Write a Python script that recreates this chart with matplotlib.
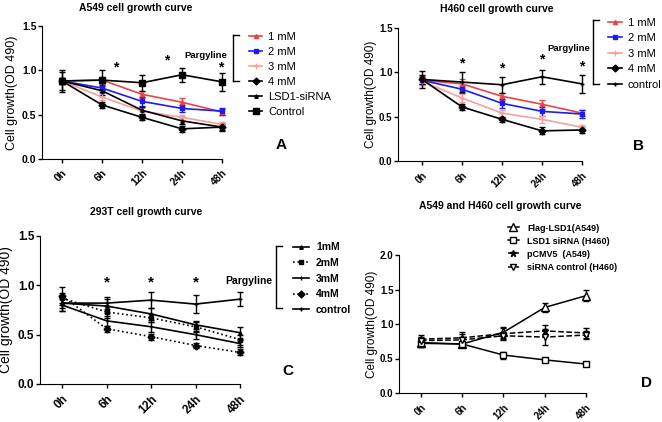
import matplotlib.pyplot as plt
import numpy as np
from matplotlib.lines import Line2D

plt.rcParams['font.family'] = ['Liberation Sans', 'DejaVu Sans']

W, H = 662, 422

times = ['0h', '6h', '12h', '24h', '48h']

# A549 panel
a_labels = ['1 mM', '2 mM', '3 mM', '4 mM', 'LSD1-siRNA', 'Control']
a_1mm = [0.88, 0.89, 0.73, 0.64, 0.53]
a_2mm = [0.88, 0.80, 0.65, 0.57, 0.54]
a_3mm = [0.88, 0.70, 0.54, 0.47, 0.39]
a_4mm = [0.88, 0.61, 0.47, 0.34, 0.36]
a_sirna = [0.88, 0.77, 0.55, 0.43, 0.36]
a_ctrl = [0.88, 0.89, 0.86, 0.95, 0.87]
a_err = [[0.03, 0.04, 0.04, 0.05, 0.03],
         [0.03, 0.04, 0.05, 0.04, 0.04],
         [0.03, 0.04, 0.03, 0.03, 0.03],
         [0.03, 0.03, 0.03, 0.03, 0.03],
         [0.10, 0.05, 0.04, 0.04, 0.04],
         [0.12, 0.11, 0.09, 0.08, 0.10]]

# H460 panel
b_labels = ['1 mM', '2 mM', '3 mM', '4 mM', 'control']
b_1mm = [0.91, 0.87, 0.73, 0.64, 0.54]
b_2mm = [0.91, 0.81, 0.65, 0.56, 0.53]
b_3mm = [0.90, 0.71, 0.54, 0.47, 0.38]
b_4mm = [0.92, 0.61, 0.47, 0.34, 0.35]
b_ctrl = [0.92, 0.89, 0.86, 0.95, 0.87]
b_err = [[0.05, 0.05, 0.04, 0.05, 0.03],
         [0.04, 0.04, 0.05, 0.05, 0.04],
         [0.04, 0.05, 0.04, 0.04, 0.03],
         [0.05, 0.03, 0.03, 0.04, 0.03],
         [0.10, 0.11, 0.09, 0.08, 0.10]]

# 293T panel
c_labels = ['1mM', '2mM', '3mM', '4mM', 'control']
c_1mm = [0.82, 0.79, 0.71, 0.60, 0.52]
c_2mm = [0.87, 0.73, 0.67, 0.58, 0.45]
c_3mm = [0.80, 0.64, 0.58, 0.50, 0.41]
c_4mm = [0.89, 0.56, 0.48, 0.39, 0.32]
c_ctrl = [0.82, 0.82, 0.85, 0.81, 0.86]
c_err = [[0.05, 0.07, 0.06, 0.04, 0.06],
         [0.05, 0.06, 0.04, 0.05, 0.05],
         [0.06, 0.05, 0.05, 0.04, 0.04],
         [0.09, 0.03, 0.03, 0.03, 0.03],
         [0.08, 0.06, 0.08, 0.09, 0.07]]

# A549 and H460 panel
d_labels = ['Flag-LSD1(A549)', 'LSD1 siRNA (H460)', 'pCMV5  (A549)', 'siRNA control (H460)']
d_flag = [0.73, 0.71, 0.88, 1.24, 1.41]
d_sirna = [0.72, 0.71, 0.55, 0.48, 0.42]
d_pcmv = [0.78, 0.80, 0.86, 0.90, 0.87]
d_sictrl = [0.76, 0.77, 0.83, 0.81, 0.84]
d_err = [[0.06, 0.04, 0.08, 0.07, 0.08],
         [0.05, 0.03, 0.05, 0.03, 0.03],
         [0.06, 0.08, 0.08, 0.08, 0.07],
         [0.05, 0.09, 0.06, 0.12, 0.06]]

RED = '#e8444c'
BLUE = '#1c1cf0'
PINK = '#f4a0a0'


def px(x, y):
    return x / W, 1 - y / H


def make_axes(fig, left, top, right, bottom, x0, ymax, yticks, fs=7.5, lfs=8.5):
    ax = fig.add_axes([left / W, 1 - bottom / H, (right - left) / W, (bottom - top) / H])
    ax.set_xlim(x0, 4.0)
    ax.set_ylim(0, ymax)
    ax.spines['top'].set_visible(False)
    ax.spines['right'].set_visible(False)
    ax.set_xticks(np.arange(len(times)))
    ax.set_xticklabels(times, rotation=45, ha='right', rotation_mode='anchor',
                       fontsize=fs, fontweight='bold')
    ax.set_yticks(yticks)
    ax.set_yticklabels([f'{t:.1f}' for t in yticks], fontsize=fs, fontweight='bold')
    ax.tick_params(direction='out', length=3, width=1)
    ax.tick_params(axis='y', pad=1)
    ax.set_ylabel('Cell growth(OD 490)', fontsize=lfs)
    return ax


def series(ax, y, err, **kw):
    x = np.arange(len(times))
    h = ax.errorbar(x, y, yerr=err, capsize=2, elinewidth=1, capthick=1,
                    clip_on=False, **kw)
    for a in h.lines[1] + h.lines[2]:
        a.set_clip_on(False)
    return h[0]


def bracket(fig, x, y1, y2, w=6):
    for xs, ys in [([x, x], [y1, y2]), ([x, x + w], [y1, y1]), ([x, x + w], [y2, y2])]:
        fig.add_artist(Line2D([v / W for v in xs], [1 - v / H for v in ys],
                              color='black', lw=1))


fig = plt.figure(figsize=(W / 100, H / 100), dpi=100)

# ---- A ----
ax = make_axes(fig, 42, 26, 222, 159, -0.5, 1.5, [0, 0.5, 1.0, 1.5], lfs=9)
ax.yaxis.set_label_coords(-0.135, 0.5)
h = []
h.append(series(ax, a_1mm, a_err[0], color=RED, marker='^', ms=3, lw=1.2))
h.append(series(ax, a_2mm, a_err[1], color=BLUE, marker='s', ms=3.5, lw=1.2))
h.append(series(ax, a_3mm, a_err[2], color=PINK, marker='+', ms=4, lw=1.2))
h.append(series(ax, a_4mm, a_err[3], color='black', marker='D', ms=3.5, lw=1.2))
h.append(series(ax, a_sirna, a_err[4], color='black', marker='^', ms=2.5, lw=1.2))
h.append(series(ax, a_ctrl, a_err[5], color='black', marker='s', ms=4, lw=1.2))
ax.legend(h, a_labels, loc='upper left', bbox_to_anchor=px(243, 26.5),
          bbox_transform=fig.transFigure, frameon=False, borderpad=0,
          fontsize=8, handlelength=1.25, handletextpad=0.5, labelspacing=0.45)
bracket(fig, 233, 35, 81)
ax.text(3.6, 1.17, 'Pargyline', fontsize=6.8, fontweight='bold', ha='center', va='center')
for sx, sy in [(1.35, 1.03), (2.62, 1.11), (3.98, 1.03)]:
    ax.text(sx, sy, '*', fontsize=10, fontweight='bold', ha='center', va='center')
fig.text(*px(136, 8), 'A549 cell growth curve', fontsize=7.5, fontweight='bold',
         ha='center', va='center')
fig.text(*px(281, 145), 'A', fontsize=11, fontweight='bold', ha='center', va='center')

# ---- B ----
ax = make_axes(fig, 398, 28, 582, 161, -0.6, 1.5, [0, 0.5, 1.0, 1.5], fs=7)
ax.yaxis.set_label_coords(-0.112, 0.5)
h = []
h.append(series(ax, b_1mm, b_err[0], color=RED, marker='^', ms=3, lw=1.2))
h.append(series(ax, b_2mm, b_err[1], color=BLUE, marker='s', ms=3.5, lw=1.2))
h.append(series(ax, b_3mm, b_err[2], color=PINK, marker='+', ms=4, lw=1.2))
h.append(series(ax, b_4mm, b_err[3], color='black', marker='D', ms=3.5, lw=1.2))
h.append(series(ax, b_ctrl, b_err[4], color='black', marker='+', ms=3.5, lw=1.2))
ax.legend(h, b_labels, loc='upper left', bbox_to_anchor=px(602, 12),
          bbox_transform=fig.transFigure, frameon=False, borderpad=0,
          fontsize=8, handlelength=1.3, handletextpad=0.5, labelspacing=0.5)
bracket(fig, 593, 20, 84)
ax.text(3.67, 1.27, 'Pargyline', fontsize=6.8, fontweight='bold', ha='center', va='center')
for sx, sy in [(1, 1.10), (2, 1.04), (3, 1.14), (4, 1.07)]:
    ax.text(sx, sy, '*', fontsize=10, fontweight='bold', ha='center', va='center')
fig.text(*px(497, 9), 'H460 cell growth curve', fontsize=7.5, fontweight='bold',
         ha='center', va='center')
fig.text(*px(639, 146), 'B', fontsize=11, fontweight='bold', ha='center', va='center')

# ---- C ----
ax = make_axes(fig, 40, 236, 240, 384, -0.5, 1.5, [0, 0.5, 1.0, 1.5], fs=8.5, lfs=10)
ax.yaxis.set_label_coords(-0.135, 0.5)
h = []
h.append(series(ax, c_1mm, c_err[0], color='black', marker='^', ms=2.5, lw=1.2))
h.append(series(ax, c_2mm, c_err[1], color='black', marker='s', ms=3.5, lw=1.2, ls=':'))
h.append(series(ax, c_3mm, c_err[2], color='black', marker='|', ms=3, lw=1.2))
h.append(series(ax, c_4mm, c_err[3], color='black', marker='D', ms=3.5, lw=1.2, ls=':'))
h.append(series(ax, c_ctrl, c_err[4], color='black', marker='+', ms=3.5, lw=1.2))
ax.legend(h, c_labels, loc='upper left', bbox_to_anchor=px(288, 237),
          bbox_transform=fig.transFigure, frameon=False, borderpad=0,
          prop={'size': 7.5, 'weight': 'bold'}, handlelength=1.5,
          handletextpad=0.7, labelspacing=0.55)
bracket(fig, 276, 246, 308)
ax.text(4.2, 1.04, 'Pargyline', fontsize=7.5, fontweight='bold', ha='center', va='center')
for sx in [1, 2, 3]:
    ax.text(sx, 1.03, '*', fontsize=11, fontweight='bold', ha='center', va='center')
fig.text(*px(146, 212), '293T cell growth curve', fontsize=7.5, fontweight='bold',
         ha='center', va='center')
fig.text(*px(288, 371), 'C', fontsize=11, fontweight='bold', ha='center', va='center')

# ---- D ----
ax = make_axes(fig, 399, 255, 586, 393, -0.53, 2.0, [0, 0.5, 1.0, 1.5, 2.0], fs=7)
ax.yaxis.set_label_coords(-0.114, 0.5)
h = []
h.append(series(ax, d_flag, d_err[0], color='black', marker='^', ms=6, mfc='white', lw=1.1))
h.append(series(ax, d_sirna, d_err[1], color='black', marker='s', ms=5, mfc='white', lw=1.1))
h.append(series(ax, d_pcmv, d_err[2], color='black', marker='*', ms=5, lw=1.1, ls='--'))
h.append(series(ax, d_sictrl, d_err[3], color='black', marker='v', ms=4.5, mfc='white', lw=1.1, ls='--'))
ax.legend(h, d_labels, loc='upper left', bbox_to_anchor=px(503, 219),
          bbox_transform=fig.transFigure, frameon=False, borderpad=0,
          prop={'size': 6.5, 'weight': 'bold'}, handlelength=1.3,
          handletextpad=0.9, labelspacing=0.45)
fig.text(*px(500, 206), 'A549 and H460 cell growth curve', fontsize=7.5, fontweight='bold',
         ha='center', va='center')
fig.text(*px(646, 383), 'D', fontsize=11, fontweight='bold', ha='center', va='center')

fig.savefig('out.png', dpi=100)
